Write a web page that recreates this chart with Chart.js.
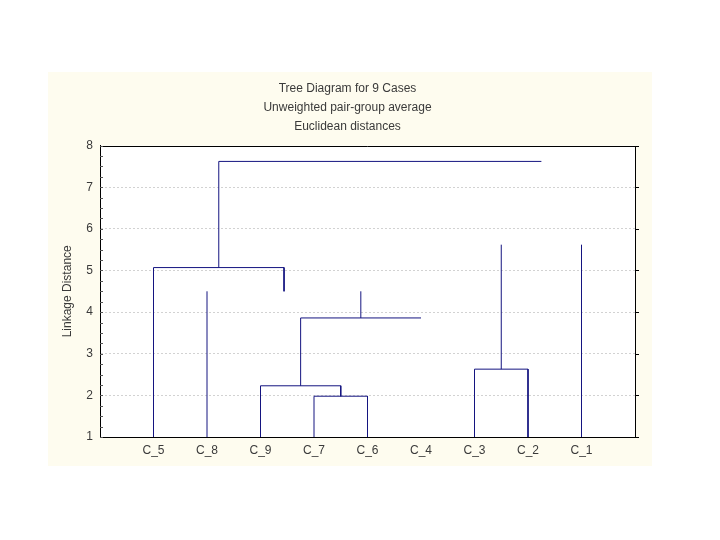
<!DOCTYPE html>
<html>
<head>
<meta charset="utf-8">
<script src="https://cdn.jsdelivr.net/npm/chart.js@4"></script>
<style>
  html, body { margin: 0; padding: 0; background: #ffffff; }
  #wrap { width: 720px; height: 540px; }
</style>
</head>
<body>
<div id="wrap"><canvas id="chart"></canvas></div>
<script>
// cases in the order the tree lays them out
var caseLabels = ["C_5", "C_8", "C_9", "C_7", "C_6", "C_4", "C_3", "C_2", "C_1"];
var titleLines = ["Tree Diagram for 9 Cases", "Unweighted pair-group average", "Euclidean distances"];
var yTicks = [1, 2, 3, 4, 5, 6, 7, 8];

// branches of the tree as drawn: [case position, linkage distance] pairs
var branchA = [[1, 1], [1, 5.07], [3.44, 5.07], [3.44, 4.5]];
var branchB = [[2, 1], [2, 4.5]];
var branchC = [[3, 1], [3, 2.23], [4.5, 2.23], [4.5, 1.98]];
var branchD = [[4, 1], [4, 1.98], [5, 1.98], [5, 1]];
var branchE = [[3.75, 2.23], [3.75, 3.86], [6, 3.86]];
var branchF = [[4.875, 3.86], [4.875, 4.5]];
var branchG = [[2.22, 5.07], [2.22, 7.62], [8.25, 7.62]];
var branchH = [[7, 1], [7, 2.63], [8, 2.63], [8, 1]];
var branchI = [[7.5, 2.63], [7.5, 5.62]];
var branchJ = [[9, 1], [9, 5.62]];

var branches = [branchA, branchB, branchC, branchD, branchE, branchF, branchG, branchH, branchI, branchJ];

var lineColor = "#141480";
var textColor = "#3a3a3a";
var fontFamily = "'Liberation Sans', Arial, sans-serif";

var panelPlugin = {
    id: "panel",
    beforeDraw: (chart) => {
        var ctx = chart.ctx;
        var a = chart.chartArea;
        ctx.save();
        ctx.fillStyle = "#fefcef";
        ctx.fillRect(48, 72, 604, 394);
        ctx.fillStyle = "#ffffff";
        ctx.fillRect(a.left, a.top, a.right - a.left, a.bottom - a.top);
        ctx.restore();
    },
    afterDraw: (chart) => {
        var ctx = chart.ctx;
        var a = chart.chartArea;
        var y = chart.scales.y;
        ctx.save();
        ctx.strokeStyle = "#000000";
        ctx.lineWidth = 1;
        ctx.beginPath();
        ctx.moveTo(a.left, Math.round(a.top) + 0.5);
        ctx.lineTo(Math.round(a.right) + 0.5, Math.round(a.top) + 0.5);
        ctx.lineTo(Math.round(a.right) + 0.5, a.bottom);
        // small ticks on the right edge
        yTicks.forEach((v) => {
            var py = Math.round(y.getPixelForValue(v)) + 0.5;
            ctx.moveTo(a.right, py);
            ctx.lineTo(a.right + 4, py);
        });
        ctx.stroke();
        // minor ticks on the left edge
        ctx.strokeStyle = "#555555";
        ctx.beginPath();
        for (var v = 1; v <= 8; v += 0.25) {
            var py = Math.round(y.getPixelForValue(v)) + 0.5;
            ctx.moveTo(a.left, py);
            ctx.lineTo(a.left + 3, py);
        }
        ctx.stroke();
        ctx.restore();
    }
};

var canvas = document.getElementById("chart");

var config = {
    type: "scatter",
    data: {
        datasets: branches.map((b) => {
            return {
                data: b.map((p) => ({ x: p[0], y: p[1] })),
                showLine: true,
                borderColor: lineColor,
                borderWidth: 1,
                pointRadius: 0,
                pointHoverRadius: 0,
                tension: 0,
                fill: false
            };
        })
    },
    options: {
        animation: { duration: 0 },
        maintainAspectRatio: false,
        responsive: true,
        layout: {
            padding: { left: 60, right: 85, top: 0, bottom: 0 }
        },
        plugins: {
            legend: { display: false },
            tooltip: { enabled: false },
            title: {
                display: true,
                text: titleLines,
                color: textColor,
                font: { family: fontFamily, size: 12, weight: "normal", lineHeight: 1.6 },
                padding: { top: 79, bottom: 9 }
            }
        },
        scales: {
            x: {
                type: "linear",
                min: 0,
                max: 10,
                afterBuildTicks: (scale) => {
                    scale.ticks = caseLabels.map((_, i) => ({ value: i + 1 }));
                },
                afterFit: (scale) => { scale.height = 103; },
                ticks: {
                    autoSkip: false,
                    maxRotation: 0,
                    padding: 6,
                    color: textColor,
                    font: { family: fontFamily, size: 12 },
                    callback: (v) => caseLabels[v - 1]
                },
                grid: { display: false, drawTicks: false },
                border: { display: true, color: "#000000", width: 1 }
            },
            y: {
                min: 1,
                max: 8,
                afterFit: (scale) => { scale.width = 40; },
                ticks: {
                    stepSize: 1,
                    padding: 7,
                    color: textColor,
                    font: { family: fontFamily, size: 12 }
                },
                grid: {
                    color: (c) => (c.tick && (c.tick.value === 8 || c.tick.value === 1)) ? "rgba(0,0,0,0)" : "#d2d2d2",
                    lineWidth: 1,
                    drawTicks: false
                },
                border: { display: true, color: "#000000", width: 1, dash: [2, 2] },
                title: {
                    display: true,
                    text: "Linkage Distance",
                    color: textColor,
                    font: { family: fontFamily, size: 12 },
                    padding: { top: 0, bottom: 0 }
                }
            }
        }
    },
    plugins: [panelPlugin]
};

new Chart(canvas, config);
</script>
</body>
</html>
